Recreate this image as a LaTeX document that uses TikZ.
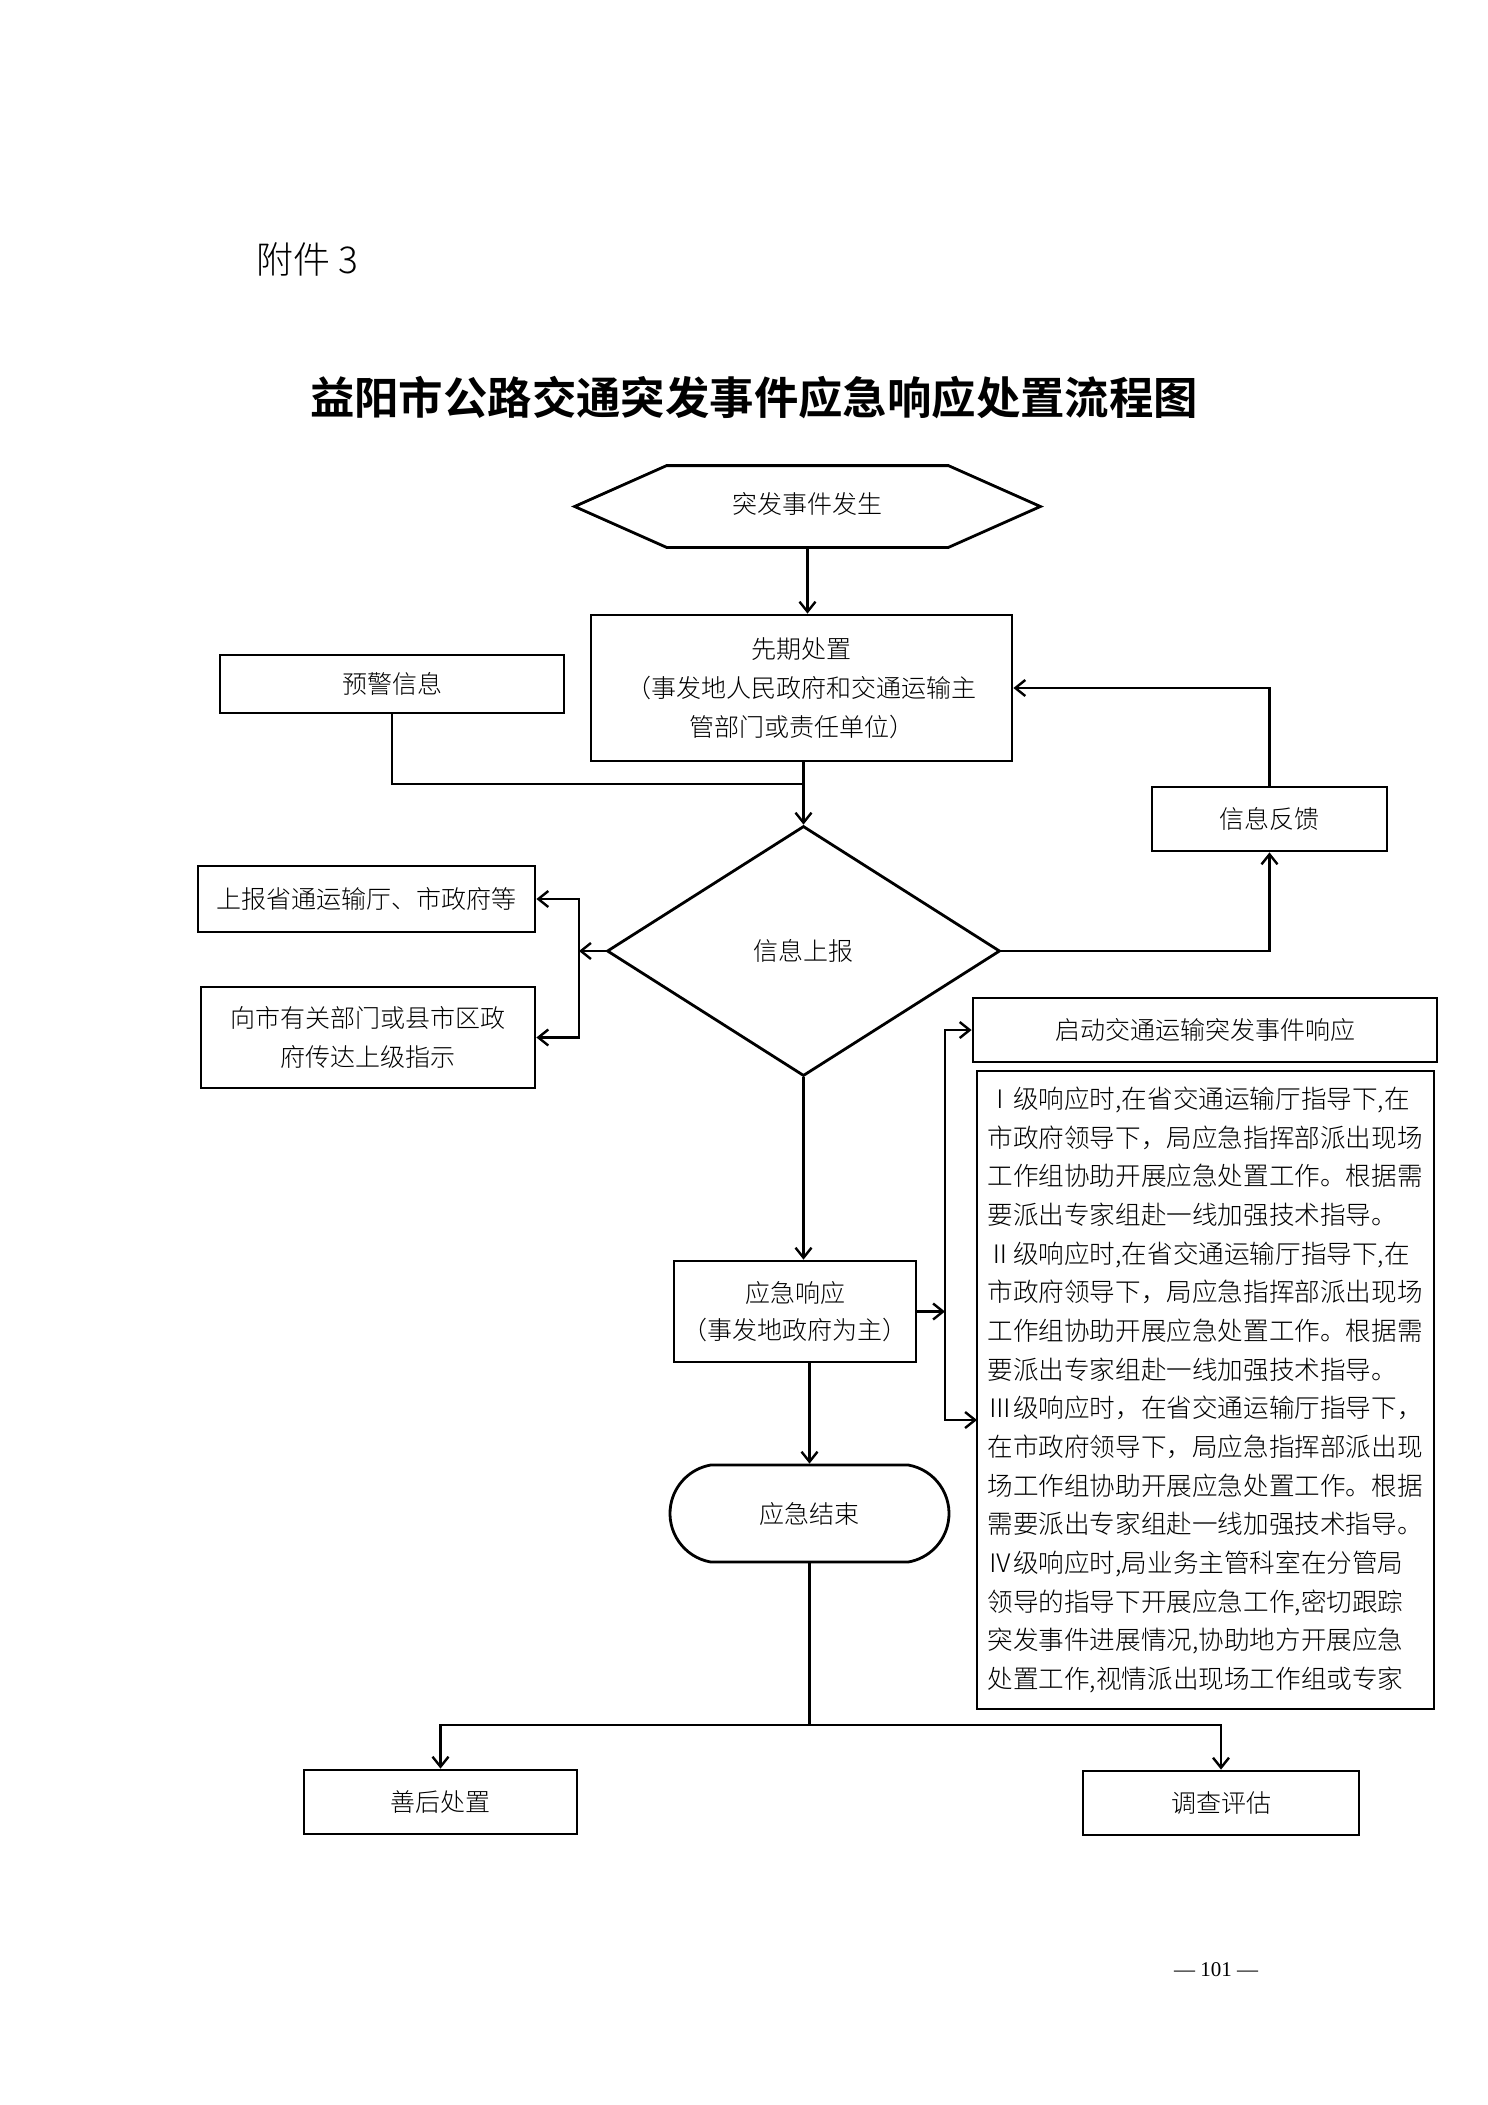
\documentclass[tikz,border=0pt]{standalone}
\usepackage{fontspec}
\setmainfont{Noto Sans CJK SC Light}[BoldFont={Noto Sans CJK SC Bold}]
\newfontfamily\numfont{Liberation Serif}
\usetikzlibrary{shapes.geometric,shapes.misc,arrows.meta}
\begin{document}
\tikzset{
  txt/.style={font=\fontsize{12.5pt}{19.5pt}\selectfont},
  box/.style={draw, line width=1.4pt, rectangle, inner sep=0pt, align=center, txt},
  conn/.style={line width=1.2pt},
  arr/.style={conn, -{Straight Barb[length=5pt,width=8pt]}},
}
\begin{tikzpicture}[x=0.5pt,y=-0.5pt]
\useasboundingbox (0,0) rectangle (1488,2105);
\fill[white] (0,0) rectangle (1488,2105);

% headings
\node[anchor=west, inner sep=0pt, font=\fontsize{18.5pt}{20pt}\selectfont] (fj) at (256,259) {附件 3};
\node[inner sep=0pt, font=\fontsize{22.2pt}{24pt}\selectfont\bfseries] (title) at (754,398) {益阳市公路交通突发事件应急响应处置流程图};

% hexagon
\node[minimum width=232.5pt, minimum height=40.5pt, inner sep=0pt, txt] (hex) at (807.5,506.5) {\raisebox{4pt}{突发事件发生}};
\draw[line width=1.4pt] (hex.west) -- ([xshift=46pt]hex.north west) -- ([xshift=-46pt]hex.north east)
  -- (hex.east) -- ([xshift=-46pt]hex.south east) -- ([xshift=46pt]hex.south west) -- cycle;

% boxes
\node[box, minimum width=210.5pt, minimum height=73pt] (pre) at (801.5,688) {先期处置\\（事发地人民政府和交通运输主\\管部门或责任单位）};
\node[box, minimum width=172pt, minimum height=29pt] (warn) at (392,684) {预警信息};
\node[diamond, draw, line width=1.4pt, minimum width=196.5pt, minimum height=125pt, inner sep=0pt, aspect=1.57, txt] (dia) at (803.5,951) {信息上报};
\node[box, minimum width=168.5pt, minimum height=33pt] (rep) at (366.5,899) {上报省通运输厅、市政府等};
\node[box, minimum width=167pt, minimum height=50.5pt] (tell) at (368,1037.5) {向市有关部门或县市区政\\府传达上级指示};
\node[box, minimum width=117.5pt, minimum height=32pt] (fb) at (1269.5,819) {信息反馈};
\node[box, minimum width=232pt, minimum height=32pt] (start) at (1205,1030) {启动交通运输突发事件响应};
\node[box, minimum width=228.5pt, minimum height=319pt, text width=218pt, align=left,
      font=\fontsize{12.8pt}{19.33pt}\selectfont] (big) at (1205.5,1390) {%
Ⅰ级响应时,在省交通运输厅指导下,在\\
市政府领导下，局应急指挥部派出现场\\
工作组协助开展应急处置工作。根据需\\
要派出专家组赴一线加强技术指导。\\
Ⅱ级响应时,在省交通运输厅指导下,在\\
市政府领导下，局应急指挥部派出现场\\
工作组协助开展应急处置工作。根据需\\
要派出专家组赴一线加强技术指导。\\
Ⅲ级响应时，在省交通运输厅指导下，\\
在市政府领导下，局应急指挥部派出现\\
场工作组协助开展应急处置工作。根据\\
需要派出专家组赴一线加强技术指导。\\
Ⅳ级响应时,局业务主管科室在分管局\\
领导的指导下开展应急工作,密切跟踪\\
突发事件进展情况,协助地方开展应急\\
处置工作,视情派出现场工作组或专家};
\node[box, minimum width=121pt, minimum height=50.5pt, font=\fontsize{12.5pt}{18.5pt}\selectfont] (resp) at (795,1311.5) {应急响应\\（事发地政府为主）};
\node[rounded rectangle, rounded rectangle arc length=160, draw, line width=1.4pt, minimum width=139.5pt, minimum height=48.5pt, inner sep=0pt, txt] (end) at (809.5,1513.5) {应急结束};
\node[box, minimum width=136.5pt, minimum height=32pt] (after) at (440.5,1802) {善后处置};
\node[box, minimum width=138pt, minimum height=32pt] (inv) at (1221,1803) {调查评估};

\node[inner sep=0pt, font=\numfont\fontsize{10.5pt}{12pt}\selectfont] (pg) at (1216,1970) {— 101 —};

% connectors
\coordinate (j1) at (803.5,784);
\coordinate (b1) at (579,951);
\coordinate (b2) at (945,1311.5);
\coordinate (bigin) at (977,1420);
\coordinate (j2) at (809.5,1725);

\draw[arr] (hex.south) -- (hex.south |- pre.north);
\draw[arr] (dia.north |- pre.south) -- (dia.north);
\draw[conn] (warn.south) |- (j1);
\draw[arr] (dia.west) -- (b1);
\draw[arr] (b1) |- (rep.east);
\draw[arr] (b1) |- (tell.east);
\draw[arr] (dia.east) -| (fb.south);
\draw[arr] (fb.north) |- (pre.east);
\draw[arr] (dia.south) -- (dia.south |- resp.north);
\draw[arr] (resp.east) -- (b2);
\draw[arr] (b2) |- (start.west);
\draw[arr] (b2) |- (bigin);
\draw[arr] (end.north |- resp.south) -- (end.north);
\draw[conn] (end.south) -- (j2);
\draw[arr] (j2) -| (after.north);
\draw[arr] (j2) -| (inv.north);
\end{tikzpicture}
\end{document}
